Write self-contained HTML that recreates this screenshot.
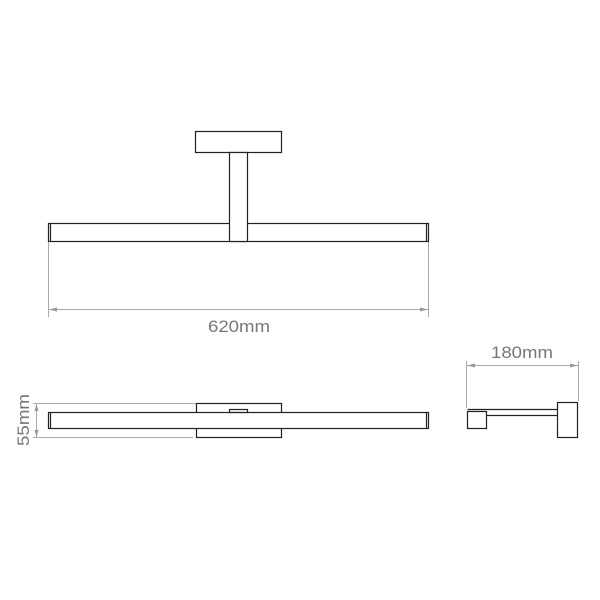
<!DOCTYPE html>
<html><head><style>body{margin:0;background:#fff}svg{display:block}</style></head><body>
<svg width="600" height="600" viewBox="0 0 600 600" xmlns="http://www.w3.org/2000/svg">
<g fill="none" stroke="#222" stroke-width="1.2">
<rect x="195.5" y="131.5" width="86" height="21"/>
<rect x="48.5" y="223.5" width="380" height="18"/>
<line x1="50.5" y1="223.5" x2="50.5" y2="241.5"/>
<line x1="426.5" y1="223.5" x2="426.5" y2="241.5"/>
<rect x="229.5" y="152.5" width="18" height="89" fill="#fff"/>
<rect x="196.5" y="403.5" width="85" height="34"/>
<rect x="48.5" y="412.5" width="380" height="16" fill="#fff"/>
<line x1="50.5" y1="412.5" x2="50.5" y2="428.5"/>
<line x1="426.5" y1="412.5" x2="426.5" y2="428.5"/>
<rect x="229.5" y="409.5" width="18" height="3"/>
<line x1="467.5" y1="409.5" x2="557.5" y2="409.5"/>
<line x1="486.5" y1="415.5" x2="557.5" y2="415.5"/>
<rect x="467.5" y="411.5" width="19" height="17" fill="#fff"/>
<rect x="557.5" y="402.5" width="20" height="35"/>
</g>
<g stroke="#aaa" stroke-width="1" fill="none">
<line x1="48.5" y1="242" x2="48.5" y2="317"/>
<line x1="428.5" y1="242" x2="428.5" y2="317"/>
<line x1="49" y1="309.5" x2="428" y2="309.5"/>
<line x1="36.5" y1="403" x2="36.5" y2="437"/>
<line x1="33" y1="403.5" x2="196" y2="403.5"/>
<line x1="33" y1="437.5" x2="193" y2="437.5"/>
<line x1="466.5" y1="361" x2="466.5" y2="408"/>
<line x1="578.5" y1="361" x2="578.5" y2="401"/>
<line x1="467" y1="365.5" x2="578" y2="365.5"/>
</g>
<g fill="#999">
<polygon points="49,309.5 57,307.5 57,311.5"/>
<polygon points="428,309.5 420,307.5 420,311.5"/>
<polygon points="36.5,404 34.5,411 38.5,411"/>
<polygon points="36.5,437 34.5,430 38.5,430"/>
<polygon points="467,365.5 475,363.5 475,367.5"/>
<polygon points="578,365.5 570,363.5 570,367.5"/>
</g>
<g font-family="Liberation Sans, sans-serif" font-size="17" fill="#777" text-anchor="middle" textLength="62">
<text x="239" y="332" textLength="62" lengthAdjust="spacingAndGlyphs">620mm</text>
<text x="522" y="358" textLength="62" lengthAdjust="spacingAndGlyphs">180mm</text>
<text transform="translate(29,420) rotate(-90)" textLength="52" lengthAdjust="spacingAndGlyphs">55mm</text>
</g>
</svg>
</body></html>
